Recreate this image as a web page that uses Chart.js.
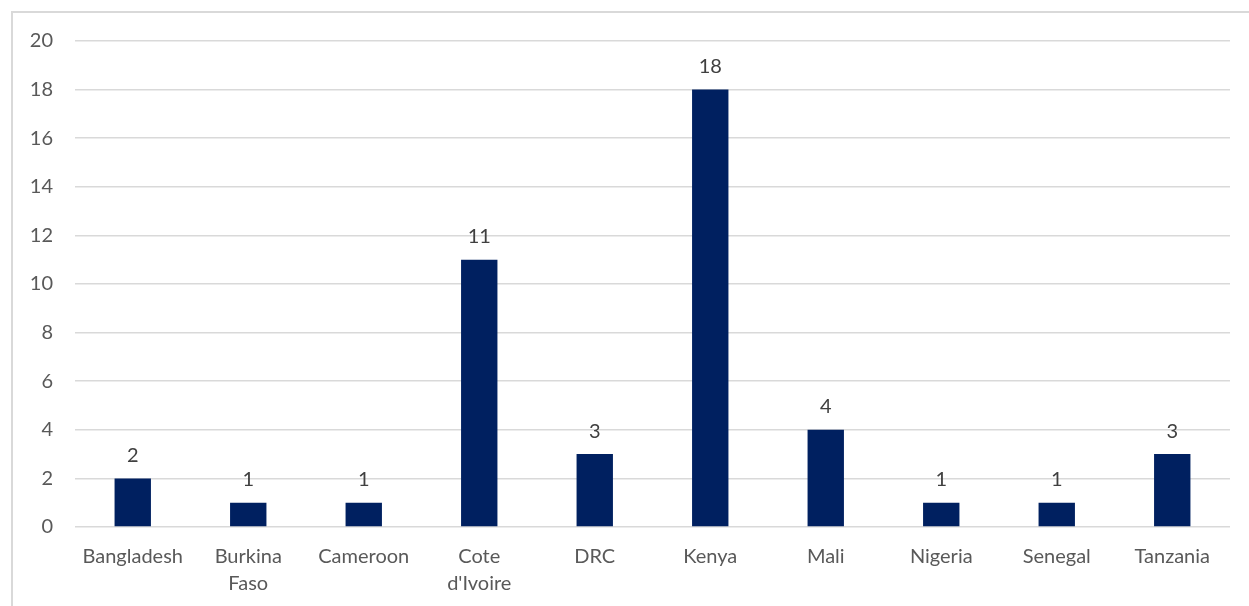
<!DOCTYPE html>
<html>
<head>
<meta charset="utf-8">
<script src="https://cdn.jsdelivr.net/npm/chart.js@4/dist/chart.umd.min.js"></script>
<style>
  html, body { margin: 0; padding: 0; background: #fff; overflow: hidden; }
  #frame {
    position: absolute; left: 11px; top: 11px;
    width: 1300px; height: 700px;
    border: 2px solid #d9d9d9; box-sizing: border-box;
  }
  #myChart { position: absolute; left: 0; top: 0; }
</style>
</head>
<body>
<div id="frame"></div>
<canvas id="myChart" width="1249" height="606"></canvas>
<script>
const countries = ['Bangladesh', ['Burkina', 'Faso'], 'Cameroon', ['Cote', "d'Ivoire"], 'DRC', 'Kenya', 'Mali', 'Nigeria', 'Senegal', 'Tanzania'];
const counts = [2, 1, 1, 11, 3, 18, 4, 1, 1, 3];
const yTicks = [0, 2, 4, 6, 8, 10, 12, 14, 16, 18, 20];

const FONT = 'Lato, "Open Sans", sans-serif';
const TEXT = '#595959';

// value labels over each bar
const barLabels = {
  id: 'barLabels',
  afterDatasetsDraw(chart) {
    const ctx = chart.ctx;
    const meta = chart.getDatasetMeta(0);
    ctx.save();
    ctx.font = '20px ' + FONT;
    ctx.fillStyle = '#404040';
    ctx.textAlign = 'center';
    ctx.textBaseline = 'bottom';
    meta.data.forEach((bar, i) => {
      ctx.fillText(String(counts[i]), bar.x, bar.y - 13);
    });
    ctx.restore();
  }
};

const ctx = document.getElementById('myChart').getContext('2d');
new Chart(ctx, {
  type: 'bar',
  data: {
    labels: countries,
    datasets: [{
      data: counts,
      backgroundColor: '#002060',
      categoryPercentage: 1,
      barPercentage: 0.315
    }]
  },
  options: {
    responsive: false,
    animation: false,
    layout: { padding: { top: 41, right: 19, left: 0, bottom: 0 } },
    plugins: { legend: { display: false }, tooltip: { enabled: false } },
    scales: {
      x: {
        grid: { display: false, drawTicks: false },
        border: { display: false },
        ticks: {
          color: TEXT,
          font: { family: FONT, size: 20, lineHeight: 1.35 },
          padding: 16,
          maxRotation: 0,
          autoSkip: false
        },
        afterFit(scale) { scale.height = 79; }
      },
      y: {
        min: 0,
        max: 20,
        afterBuildTicks(scale) { scale.ticks = yTicks.map(v => ({ value: v })); },
        grid: { color: '#d9d9d9', lineWidth: 1.5, drawTicks: false },
        border: { display: false },
        ticks: {
          color: TEXT,
          font: { family: FONT, size: 20 },
          padding: 22
        },
        afterFit(scale) { scale.width = 75; }
      }
    }
  },
  plugins: [barLabels]
});
</script>
</body>
</html>
